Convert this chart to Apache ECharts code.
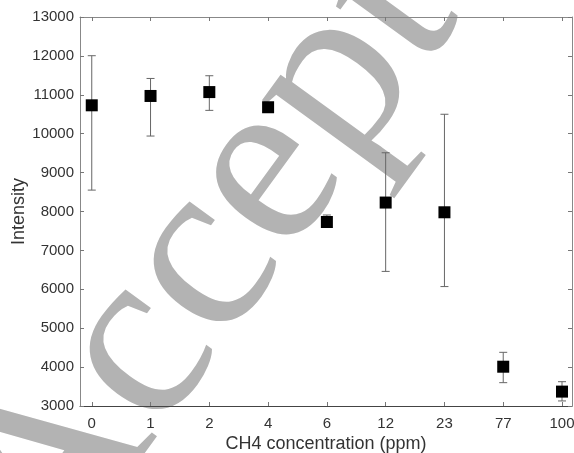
<!DOCTYPE html>
<html>
<head>
<meta charset="utf-8">
<script src="https://cdn.jsdelivr.net/npm/echarts@6/dist/echarts.min.js"></script>
<style>
html,body{margin:0;padding:0;background:#fff;}
#c{width:574px;height:453px;}
</style>
</head>
<body>
<div id="c"></div>
<script>
// Data
var categories = ['0', '1', '2', '4', '6', '12', '23', '77', '100'];
var means = [10730, 10970, 11070, 10680, 7730, 8230, 7980, 4010, 3370];
var upperVals = [12005, 11420, 11490, 10740, 7910, 9510, 10500, 4380, 3625];
var lowerVals = [8550, 9940, 10600, 10620, 7650, 6460, 6070, 3600, 3130];

var idx = categories.map(function (c, i) { return i; });
var pointData = means.map(function (v, i) { return [i, v]; });
var errData = means.map(function (v, i) { return [i, lowerVals[i], upperVals[i]]; });

var chart = echarts.init(document.getElementById('c'), null, {renderer: 'canvas'});
var tickFont = {fontFamily: 'Liberation Sans', fontSize: 15, color: '#333'};
chart.setOption({
  animation: false,
  backgroundColor: '#fff',
  graphic: {
    elements: [{
      type: 'text',
      x: 2, y: 540,
      rotation: 54 * Math.PI / 180,
      z: -10,
      silent: true,
      style: {
        text: 'Accepted',
        fontFamily: 'Liberation Serif',
        fontSize: 245,
        fill: '#b3b3b3',
        textAlign: 'left',
        textVerticalAlign: 'middle'
      }
    }]
  },
  grid: {left: 80, right: 2, top: 17, bottom: 47, containLabel: false, outerBoundsMode: 'none'},
  xAxis: [{
    type: 'value', min: -0.2, max: 8.17, position: 'bottom',
    name: 'CH4 concentration (ppm)', nameLocation: 'middle', nameGap: 29, nameMoveOverlap: false,
    nameTextStyle: {fontFamily: 'Liberation Sans', fontSize: 18, color: '#333'},
    axisLine: {show: true, onZero: false, lineStyle: {color: '#444', width: 1}},
    axisTick: {show: true, inside: true, length: 4, customValues: idx, lineStyle: {color: '#777'}},
    axisLabel: Object.assign({margin: 10, customValues: idx, formatter: function (v) { return categories[Math.round(v)]; }}, tickFont),
    splitLine: {show: false}
  }, {
    type: 'value', min: -0.2, max: 8.17, position: 'top',
    axisLine: {show: true, onZero: false, lineStyle: {color: '#888', width: 1}},
    axisTick: {show: true, inside: true, length: 4, customValues: idx, lineStyle: {color: '#777'}},
    axisLabel: {show: false},
    splitLine: {show: false}
  }],
  yAxis: [{
    type: 'value', min: 3000, max: 13000, interval: 1000, position: 'left',
    name: 'Intensity', nameLocation: 'middle', nameGap: 52, nameMoveOverlap: false,
    nameTextStyle: {fontFamily: 'Liberation Sans', fontSize: 18, color: '#333'},
    axisLine: {show: true, onZero: false, lineStyle: {color: '#888', width: 1}},
    axisTick: {show: true, inside: true, length: 4, lineStyle: {color: '#777'}},
    axisLabel: Object.assign({margin: 6, formatter: function (v) { return String(v); }}, tickFont),
    splitLine: {show: false}
  }, {
    type: 'value', min: 3000, max: 13000, interval: 1000, position: 'right',
    axisLine: {show: true, onZero: false, lineStyle: {color: '#888', width: 1}},
    axisTick: {show: true, inside: true, length: 4, lineStyle: {color: '#777'}},
    axisLabel: {show: false},
    splitLine: {show: false}
  }],
  series: [{
    type: 'custom',
    xAxisIndex: 0, yAxisIndex: 0,
    z: 3,
    renderItem: function (params, api) {
      var x = api.value(0);
      var lo = api.coord([x, api.value(1)]);
      var hi = api.coord([x, api.value(2)]);
      var hw = 4;
      var st = {stroke: '#666', lineWidth: 1};
      return {
        type: 'group',
        children: [
          {type: 'line', shape: {x1: lo[0], y1: lo[1], x2: hi[0], y2: hi[1]}, style: st},
          {type: 'line', shape: {x1: lo[0] - hw, y1: lo[1], x2: lo[0] + hw, y2: lo[1]}, style: st},
          {type: 'line', shape: {x1: hi[0] - hw, y1: hi[1], x2: hi[0] + hw, y2: hi[1]}, style: st}
        ]
      };
    },
    encode: {x: 0, y: [1, 2]},
    data: errData
  }, {
    type: 'scatter',
    xAxisIndex: 0, yAxisIndex: 0,
    z: 4,
    symbol: 'rect',
    symbolSize: 12,
    itemStyle: {color: '#000', opacity: 1},
    data: pointData
  }]
});
</script>
</body>
</html>
